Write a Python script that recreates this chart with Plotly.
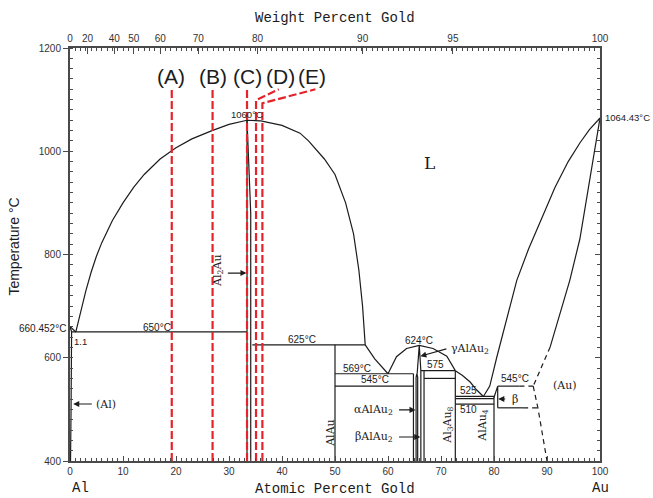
import numpy as np
import plotly.graph_objects as go

# ---- composition scales -------------------------------------------------
M_AU, M_AL = 196.97, 26.98


def wt_to_at(w):
    """Weight percent Au -> atomic percent Au."""
    w = np.asarray(w, dtype=float)
    a = w / M_AU
    b = (100.0 - w) / M_AL
    return 100.0 * a / (a + b)


WT_LABELS = [0, 20, 40, 50, 60, 70, 80, 90, 95, 100]
AT_TICKS = list(range(0, 101, 10))
T_TICKS = list(range(400, 1201, 200))

# ---- phase boundaries (atomic % Au, deg C) -------------------------------
LIQ_AL_X = [0, 1.1]
LIQ_AL_T = [660.452, 650]
SOL_AL_X = [0, 0.3, 0.2, 0.1]
SOL_AL_T = [660.452, 650, 500, 400]

DOME_X = [1.1, 2, 3, 4, 5, 6, 7, 8, 10, 12, 14, 17, 20, 23, 26.8, 30, 33.4,
          36, 40, 43.4, 45, 48, 50, 52, 53.5, 54.5, 55.2, 55.7]
DOME_T = [650, 690, 730, 766, 797, 823, 846, 866, 900, 930, 955, 985, 1007,
          1024, 1040, 1052, 1060, 1059, 1050, 1035, 1020, 985, 955, 900, 840,
          770, 700, 625]

EUT1_X = [55.7, 57.5, 60.0]
EUT1_T = [625, 598, 569]

GAMMA_X = [60.0, 61.6, 63.5, 65.9, 68.5, 71.1, 72.7]
GAMMA_T = [569, 602, 618, 624, 618, 603, 575]

EUT2_X = [72.7, 74.0, 75.5, 76.7, 78.0]
EUT2_T = [575, 566, 553, 538, 525]

LIQ_AU_X = [78.0, 79.2, 80.5, 82.4, 84.3, 86.5, 89, 91.5, 94, 96.2, 98, 100]
LIQ_AU_T = [525, 545, 600, 673, 750, 810, 870, 930, 980, 1016, 1042, 1064.43]

SOL_AU_X = [100, 98, 96.2, 94.3, 92.5, 90.6]
SOL_AU_T = [1064.43, 945, 830, 750, 685, 621]
SOL_AU_DASH_X = [90.6, 87.4]
SOL_AU_DASH_T = [621, 545]
SOLVUS_AU_X = [87.4, 88.3, 90.0]
SOLVUS_AU_T = [545, 502, 400]

# Al2Au line compound
AL2AU_L_X = [33.4, 33.4]
AL2AU_L_T = [1060, 400]
AL2AU_R_X = [33.4, 34.1, 34.1]
AL2AU_R_T = [1060, 880, 400]

# AlAu2 polymorphs
AB_ALAU2_X = [65.3, 65.3, 65.45, 65.6, 65.6]
AB_ALAU2_T = [400, 562, 569, 562, 400]
G_ALAU2_X = [65.5, 65.9, 66.2, 66.2]
G_ALAU2_T = [569, 624, 575, 400]

# beta phase near AlAu4
BETA_X = [80.0, 80.7, 80.7]
BETA_T = [523, 545, 503]

# vertical compound lines: x, lower T, upper T
VERT_X = [50.0, 64.8, 66.8, 72.7, 80.0]
VERT_LO = [400, 400, 400, 400, 400]
VERT_HI = [625, 569, 575, 575, 525]

# horizontal invariant lines: T, x start, x end
ISO_T = [650, 625, 569, 545, 575, 560, 525, 521, 510]
ISO_X0 = [0.3, 34.4, 50.0, 50.0, 66.2, 66.8, 72.7, 72.7, 72.7]
ISO_X1 = [33.4, 55.7, 64.8, 64.8, 72.7, 72.7, 80.0, 80.0, 80.0]

# Au-side lines: solid part then dashed continuation
AU_ISO_T = [545, 503]
AU_ISO_X0 = [80.7, 80.7]
AU_ISO_XM = [84.8, 85.5]
AU_ISO_X1 = [87.4, 88.3]

# ---- alloy compositions (A)-(E) -----------------------------------------
SAMPLE_NAMES = ["(A)", "(B)", "(C)", "(D)", "(E)"]
SAMPLE_X = [19.2, 26.9, 33.4, 35.1, 36.3]
SAMPLE_TOP = [1122, 1122, 1122, 1099, 1093]
SAMPLE_LABEL_X = [19.06, 26.98, 33.5, 39.8, 45.7]
SAMPLE_LEADER_X = [19.2, 26.9, 33.4, 39.4, 46.3]
SAMPLE_LEADER_T = [1122, 1122, 1122, 1120, 1120]

BLACK = "#1c1c1c"
RED = "#e5232b"
AX = "#4a4a4a"

fig = go.Figure()


def line(xs, ts, dash=None, color=BLACK, width=1.2, xaxis="x", yaxis="y"):
    fig.add_trace(go.Scatter(
        x=xs, y=ts, mode="lines", xaxis=xaxis, yaxis=yaxis,
        line=dict(color=color, width=width, dash=dash),
        hoverinfo="skip", showlegend=False))


# boundaries
line(LIQ_AL_X, LIQ_AL_T)
line(SOL_AL_X, SOL_AL_T)
line(DOME_X, DOME_T)
line(EUT1_X, EUT1_T)
line(GAMMA_X, GAMMA_T)
line(EUT2_X, EUT2_T)
line(LIQ_AU_X, LIQ_AU_T)
line(SOL_AU_X, SOL_AU_T)
line(SOL_AU_DASH_X, SOL_AU_DASH_T, dash="5px,4px")
line(SOLVUS_AU_X, SOLVUS_AU_T, dash="5px,4px")
line(AL2AU_L_X, AL2AU_L_T)
line(AL2AU_R_X, AL2AU_R_T)
line(AB_ALAU2_X, AB_ALAU2_T)
line(G_ALAU2_X, G_ALAU2_T)
line(BETA_X, BETA_T)
for x, lo, hi in zip(VERT_X, VERT_LO, VERT_HI):
    line([x, x], [lo, hi])
for t, x0, x1 in zip(ISO_T, ISO_X0, ISO_X1):
    line([x0, x1], [t, t])
for t, x0, xm, x1 in zip(AU_ISO_T, AU_ISO_X0, AU_ISO_XM, AU_ISO_X1):
    line([x0, xm], [t, t])
    line([xm, x1], [t, t], dash="5px,4px")

# sample composition lines
for x, top, lx, lt in zip(SAMPLE_X, SAMPLE_TOP, SAMPLE_LEADER_X, SAMPLE_LEADER_T):
    xs, ts = [x, x], [400, top]
    if lx != x:
        xs.append(lx)
        ts.append(lt)
    line(xs, ts, dash="8px,3px", color=RED, width=2.2)

# invisible traces so that the top and right axes are drawn
line([0, 100], [400, 400], color="rgba(0,0,0,0)", width=0, xaxis="x2", yaxis="y")
line([0, 100], [400, 400], color="rgba(0,0,0,0)", width=0, xaxis="x", yaxis="y2")

SANS = "Liberation Sans, Arial, sans-serif"
SERIF = "DejaVu Serif, serif"
MONO = "Liberation Mono, monospace"

ann = []


def text(x, y, s, size=10, font=SANS, xanchor="center", angle=0,
         xref="x", yref="y", color=BLACK):
    ann.append(dict(x=x, y=y, text=s, xref=xref, yref=yref, showarrow=False,
                    xanchor=xanchor, yanchor="middle", textangle=angle,
                    font=dict(family=font, size=size, color=color)))


def arrow(x_tail, x_tip, y_tip, y_tail=None):
    ann.append(dict(x=x_tip, y=y_tip, ax=x_tail,
                    ay=y_tip if y_tail is None else y_tail,
                    xref="x", yref="y", axref="x", ayref="y", text="",
                    showarrow=True, arrowhead=2, arrowsize=1.1,
                    arrowwidth=1.1, arrowcolor=BLACK))


for name, lx in zip(SAMPLE_NAMES, SAMPLE_LABEL_X):
    text(lx, 1144, name, size=21, font=SANS)

# temperatures
text(33.4, 1072, "1060°C", size=9.5)
text(1.006, 1066, "1064.43°C", size=9.5, xanchor="left", xref="paper")
text(-0.004, 657.6, "660.452°C", size=10, xanchor="right", xref="paper")
text(1.9, 632, "1.1", size=9.5)
text(16.4, 659.5, "650°C", size=10)
text(43.8, 636, "625°C", size=10)
text(54.2, 580, "569°C", size=10)
text(57.5, 557, "545°C", size=10)
text(65.8, 633, "624°C", size=10)
text(68.9, 586, "575", size=10)
text(75.1, 536, "525", size=10)
text(75.1, 500.5, "510", size=10)
text(84.0, 559, "545°C", size=10)

# phase names
text(67.9, 977, "L", size=17, font=SERIF)
text(93.4, 547, "(Au)", size=11, font=SERIF)
text(4.6, 510.4, "(Al)", size=11, font=SERIF, xanchor="left")
arrow(4.4, 0.6, 510.4)
text(27.9, 768, "Al<sub>2</sub>Au", size=11, font=SERIF, angle=-90)
arrow(29.5, 33.3, 764)
text(49.0, 454, "AlAu", size=11, font=SERIF, angle=-90)
text(71.4, 469, "Al<sub>3</sub>Au<sub>8</sub>", size=11, font=SERIF, angle=-90)
text(78.0, 469, "AlAu<sub>4</sub>", size=11, font=SERIF, angle=-90)
text(61.3, 499, "αAlAu<sub>2</sub>", size=11, font=SERIF, xanchor="right")
arrow(61.8, 65.2, 499)
text(61.3, 446.5, "βAlAu<sub>2</sub>", size=11, font=SERIF, xanchor="right")
arrow(61.8, 66.1, 446.5)
text(71.6, 616, "γAlAu<sub>2</sub>", size=11, font=SERIF, xanchor="left")
arrow(71.3, 66.1, 603, y_tail=618)
text(83.0, 520, "β", size=11, font=SERIF, xanchor="left")
arrow(82.4, 80.8, 520)

# axis titles
text(0.5, 1.072, "Weight Percent Gold", size=14, font=MONO, xref="paper", yref="paper")
text(0.5, -0.068, "Atomic Percent Gold", size=14, font=MONO, xref="paper", yref="paper")
text(0.019, -0.066, "Al", size=14, font=MONO, xref="paper", yref="paper")
text(1.0, -0.066, "Au", size=14, font=MONO, xref="paper", yref="paper")
text(-0.105, 0.52, "Temperature °C", size=14, font=SANS, angle=-90,
     xref="paper", yref="paper")

tick_font = dict(family=SANS, size=10, color="#333")

fig.update_layout(
    width=653, height=498,
    margin=dict(l=70, r=53, t=48, b=37),
    paper_bgcolor="white", plot_bgcolor="white",
    showlegend=False,
    annotations=ann,
    xaxis=dict(range=[0, 100], tickmode="array", tickvals=AT_TICKS,
               ticks="inside", ticklen=5, tickwidth=1, tickcolor=AX,
               minor=dict(dtick=1, tick0=0, ticks="inside", ticklen=3,
                          tickcolor=AX, tickwidth=1),
               showline=True, linecolor=AX, linewidth=1.5,
               showgrid=False, zeroline=False, tickfont=tick_font),
    xaxis2=dict(range=[0, 100], overlaying="x", side="top", anchor="y",
                tickmode="array", tickvals=list(wt_to_at(WT_LABELS)),
                ticktext=[str(w) for w in WT_LABELS],
                ticks="inside", ticklen=6, tickwidth=1, tickcolor=AX,
                minor=dict(tickmode="array",
                           tickvals=list(range(0, 101)),
                           ticks="inside", ticklen=3, tickcolor=AX,
                           tickwidth=1),
                showline=True, linecolor=AX, linewidth=1.5,
                showgrid=False, zeroline=False, tickfont=tick_font),
    yaxis=dict(range=[400, 1200], tickmode="array", tickvals=T_TICKS,
               ticks="outside", ticklen=5, tickwidth=1, tickcolor=AX,
               minor=dict(dtick=20, tick0=400, ticks="inside", ticklen=3,
                          tickcolor=AX, tickwidth=1),
               showline=True, linecolor=AX, linewidth=2,
               showgrid=False, zeroline=False, tickfont=tick_font),
    yaxis2=dict(range=[400, 1200], overlaying="y", side="right", anchor="x",
                tickmode="array", tickvals=T_TICKS, showticklabels=False,
                ticks="inside", ticklen=5, tickwidth=1, tickcolor=AX,
                minor=dict(dtick=20, tick0=400, ticks="inside", ticklen=3,
                           tickcolor=AX, tickwidth=1),
                showline=True, linecolor=AX, linewidth=1.5,
                showgrid=False, zeroline=False),
)

fig.write_html("out.html")
